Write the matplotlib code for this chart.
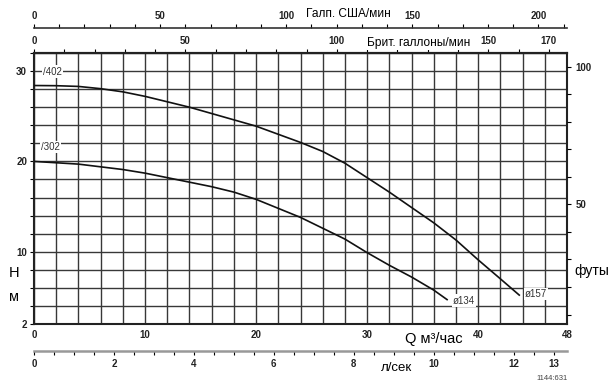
import numpy as np
import matplotlib
matplotlib.use("Agg")
import matplotlib.pyplot as plt
from matplotlib import font_manager

# pump curves, Q in m3/h, H in m
q_402 = [0, 2, 4, 6, 8, 10, 12, 14, 16, 18, 20, 22, 24, 26, 28, 30, 32, 34, 36, 38, 40, 42, 43.7]
h_402 = [28.4, 28.38, 28.3, 28.05, 27.7, 27.2, 26.6, 26.0, 25.3, 24.6, 23.9, 23.0, 22.1, 21.1,
         19.8, 18.2, 16.6, 14.9, 13.2, 11.3, 9.1, 7.0, 5.2]
q_302 = [0, 4, 8, 10, 12, 14, 16, 18, 20, 22, 24, 26, 28, 30, 32, 34, 36, 37.2]
h_302 = [20.0, 19.7, 19.1, 18.7, 18.2, 17.7, 17.2, 16.6, 15.8, 14.8, 13.8, 12.6, 11.4, 9.9,
         8.5, 7.2, 5.75, 4.7]

q_ticks = [0, 10, 20, 30, 40, 48]
h_ticks = [2, 10, 20, 30]
ft_ticks = [50, 100]
uk_ticks = [0, 50, 100, 150, 170]
us_ticks = [0, 50, 100, 150, 200]
ls_ticks = [0, 2, 4, 6, 8, 10, 12, 13]

Q_MAX = 48
H_MIN, H_MAX = 2, 32
M_TO_FT = 1 / 0.3048
M3H_TO_UK = 1000 / (4.54609 * 60)
M3H_TO_US = 1000 / (3.785411784 * 60)
M3H_TO_LS = 1 / 3.6
TICK_FS = 7

names = {f.name for f in font_manager.fontManager.ttflist}
narrow = "Liberation Sans Narrow" if "Liberation Sans Narrow" in names else "Liberation Sans"
plt.rcParams['font.family'] = ['Liberation Sans', 'DejaVu Sans']

fig = plt.figure(figsize=(6.13, 3.89), dpi=100)
L, B, W, H = 34/613, 1-324/389, 533/613, 271/389
ax = fig.add_axes([L, B, W, H])

ax.plot(q_402, h_402, color='#111111', lw=1.2, zorder=3)
ax.plot(q_302, h_302, color='#111111', lw=1.2, zorder=3)

ax.set_xlim(0, Q_MAX)
ax.set_ylim(H_MIN, H_MAX)
ax.set_xticks(q_ticks)
ax.set_xticks(np.arange(0, Q_MAX+1, 2), minor=True)
ax.set_yticks(h_ticks)
ax.set_yticks(np.arange(H_MIN, H_MAX+1, 2), minor=True)
ax.grid(which='both', color='#383838', lw=1.0)
ax.set_axisbelow(True)
ax.tick_params(axis='x', which='both', length=0, pad=4, labelsize=TICK_FS, labelcolor='#222222')
ax.tick_params(axis='y', which='both', direction='out', length=3, width=0.8, pad=2, labelsize=TICK_FS,
               labelcolor='#222222')
for lab in ax.get_xticklabels() + ax.get_yticklabels():
    lab.set_fontweight('bold')
for s in ax.spines.values():
    s.set_linewidth(1.5)
    s.set_color('#222222')

# feet on the right
ax2 = ax.twinx()
ax2.set_ylim(H_MIN*M_TO_FT, H_MAX*M_TO_FT)
ax2.set_yticks(ft_ticks)
ax2.set_yticks(np.arange(10, 101, 10), minor=True)
ax2.tick_params(which='both', direction='out', length=3, width=0.8, pad=3, labelsize=TICK_FS,
                labelcolor='#222222')
for lab in ax2.get_yticklabels():
    lab.set_fontweight('bold')
for s in ax2.spines.values():
    s.set_visible(False)

# british gallons on top spine
sec = ax.secondary_xaxis('top', functions=(lambda x: x*M3H_TO_UK, lambda x: x/M3H_TO_UK))
sec.set_xticks(uk_ticks)
sec.set_xticks(np.arange(0, 171, 10), minor=True)
sec.tick_params(which='both', direction='out', length=3, width=0.8, pad=2, labelsize=TICK_FS,
                labelcolor='#222222')
sec.spines['top'].set_linewidth(1.5)
for lab in sec.get_xticklabels():
    lab.set_fontweight('bold')

# us gallons, separate line
axu = fig.add_axes([L, 1-28/389, W, 1e-4])
axu.set_xlim(0, Q_MAX*M3H_TO_US)
axu.set_yticks([])
axu.xaxis.tick_top()
axu.set_xticks(us_ticks)
axu.set_xticks(np.arange(0, 211, 10), minor=True)
axu.tick_params(which='both', direction='out', length=3, width=0.8, pad=2, labelsize=TICK_FS,
                labelcolor='#222222')
for n, s in axu.spines.items():
    s.set_visible(n == 'top')
axu.spines['top'].set_linewidth(1.2)
axu.spines['top'].set_color('#333333')
for lab in axu.get_xticklabels():
    lab.set_fontweight('bold')

# litres per second, separate line
axl = fig.add_axes([L, 1-351/389, W, 1e-4])
axl.set_xlim(0, Q_MAX*M3H_TO_LS)
axl.set_yticks([])
axl.set_xticks(ls_ticks)
axl.set_xticks(np.arange(0, 13.5, 0.5), minor=True)
axl.tick_params(which='both', direction='out', length=3, width=0.8, pad=3, labelsize=TICK_FS,
                labelcolor='#222222')
for n, s in axl.spines.items():
    s.set_visible(n == 'bottom')
axl.spines['bottom'].set_linewidth(1.8)
axl.spines['bottom'].set_color('#999999')
for lab in axl.get_xticklabels():
    lab.set_fontweight('bold')

# curve labels
box = dict(facecolor='white', edgecolor='none', pad=0.8)
lab_kw = dict(fontsize=7, color='#333333', ha='center', va='center', bbox=box, zorder=4)
ax.text(1.7, 29.95, "/402", **lab_kw)
ax.text(1.5, 21.6, "/302", **lab_kw)
ax.text(38.7, 4.6, "ø134", **lab_kw)
ax.text(45.2, 5.3, "ø157", **lab_kw)

# axis titles
def px(x, y):
    return x/613, 1-y/389

fig.text(*px(348, 14), "Галп. США/мин", family=[narrow, 'DejaVu Sans'], fontsize=8.6, ha='center', va='center')
fig.text(*px(419, 43), "Брит. галлоны/мин", family=[narrow, 'DejaVu Sans'], fontsize=8.6, ha='center', va='center',
         bbox=dict(facecolor='white', edgecolor='none', pad=0.5))
fig.text(*px(434, 339), "Q м³/час", family=[narrow, 'DejaVu Sans'], fontsize=10.5, ha='center', va='center')
fig.text(*px(397, 368), "л/сек", family=[narrow, 'DejaVu Sans'], fontsize=9.5, ha='center', va='center')
fig.text(*px(14, 273), "Н", fontsize=10.5, ha='center', va='center')
fig.text(*px(14, 297), "м", fontsize=10.5, ha='center', va='center')
fig.text(*px(592, 271), "футы", fontsize=10, ha='center', va='center')
fig.text(*px(552, 378), "1144:631", fontsize=5.5, color='#444444', ha='center', va='center')

fig.savefig("out.png", dpi=100)
